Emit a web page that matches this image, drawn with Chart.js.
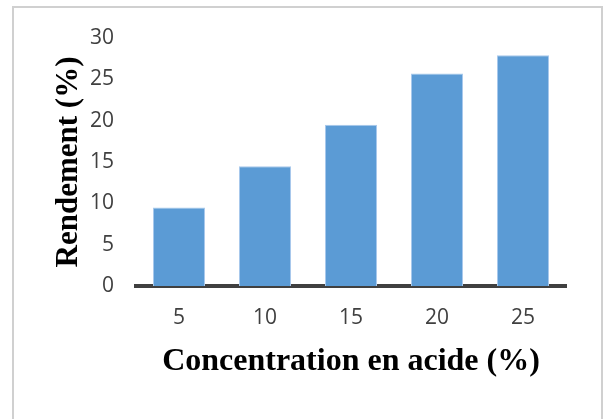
<!DOCTYPE html>
<html>
<head>
<meta charset="utf-8">
<script src="https://cdn.jsdelivr.net/npm/chart.js@4"></script>
<style>
  html, body { margin: 0; padding: 0; background: #fff; }
  #wrap { position: relative; width: 608px; height: 419px; }
  #frame { position: absolute; left: 12px; top: 6px; width: 591px; height: 420px; border: 2px solid #d0d0d0; box-sizing: border-box; }
  canvas { position: absolute; left: 0; top: 0; }
</style>
</head>
<body>
<div id="wrap">
  <div id="frame"></div>
  <canvas id="chart" width="608" height="419"></canvas>
</div>
<script>
// concentration categories and yield (%)
var concentrations = ["5", "10", "15", "20", "25"];
var rendement = [9.5, 14.5, 19.5, 25.7, 27.9];
var yTicks = [0, 5, 10, 15, 20, 25, 30];

var ctx = document.getElementById('chart').getContext('2d');
var chart = new Chart(ctx, {
    type: 'bar',
    data: {
        labels: concentrations,
        datasets: [{
            label: "Rendement",
            data: rendement,
            backgroundColor: '#5B9BD5',
            borderColor: '#A9C9EC',
            borderWidth: 1,
            barPercentage: 0.605,
            categoryPercentage: 1
        }]
    },
    options: {
        responsive: false,
        animation: false,
        layout: { padding: { left: 50, right: 42, top: 38, bottom: 38 } },
        plugins: { legend: { display: false }, tooltip: { enabled: false } },
        scales: {
            x: {
                grid: { display: false, drawTicks: false },
                border: { display: true, color: '#404040', width: 4 },
                ticks: { color: '#404040', font: { family: 'Open Sans', size: 21 }, padding: 19 },
                title: {
                    display: true,
                    text: 'Concentration en acide (%)',
                    color: '#000',
                    font: { family: 'Liberation Serif', size: 32, weight: 'bold' },
                    padding: 0
                },
                afterFit: function(scale) { scale.height = 419 - 38 - 286; }
            },
            y: {
                min: 0,
                max: 30,
                grid: { display: false, drawTicks: false },
                border: { display: false },
                afterBuildTicks: function(scale) {
                    scale.ticks = yTicks.map(function(v) { return { value: v }; });
                },
                ticks: { color: '#404040', font: { family: 'Open Sans', size: 21 }, padding: 22 },
                title: {
                    display: true,
                    text: 'Rendement (%)',
                    color: '#000',
                    font: { family: 'Liberation Serif', size: 31, weight: 'bold' },
                    padding: 0
                },
                afterFit: function(scale) { scale.width = 136 - 50; }
            }
        }
    }
});
</script>
</body>
</html>
